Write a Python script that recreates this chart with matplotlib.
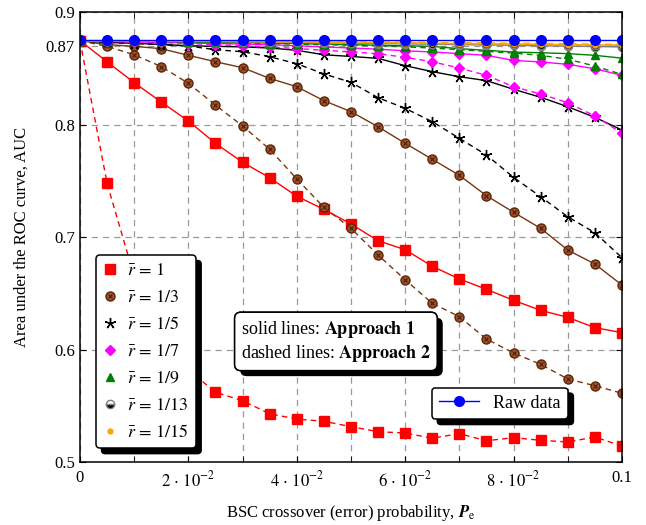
import matplotlib
matplotlib.use('Agg')
import matplotlib.pyplot as plt
from matplotlib.lines import Line2D
import matplotlib.patheffects as pe_fx

plt.rcParams['font.family'] = ['Liberation Serif', 'DejaVu Serif']
plt.rcParams['mathtext.fontset'] = 'stix'

# BSC crossover probability
pe = [0.0, 0.005, 0.01, 0.015, 0.02, 0.025, 0.03, 0.035, 0.04, 0.045, 0.05,
      0.055, 0.06, 0.065, 0.07, 0.075, 0.08, 0.085, 0.09, 0.095, 0.1]

# r = 1
r1_a1 = [0.8745, 0.8558, 0.8372, 0.820, 0.8031, 0.7833, 0.7664, 0.7527, 0.7362, 0.7246, 0.7116,
         0.6967, 0.6887, 0.6740, 0.6627, 0.6535, 0.6437, 0.6348, 0.6286, 0.6194, 0.6150]
r1_a2 = [0.8745, 0.7477, 0.665, 0.612, 0.582, 0.562, 0.5545, 0.5429, 0.5382, 0.5362, 0.5314,
         0.5269, 0.5258, 0.5211, 0.5252, 0.5189, 0.5216, 0.5193, 0.5178, 0.5222, 0.5142]
# r = 1/3
r3_a1 = [0.8745, 0.871, 0.8695, 0.8674, 0.8615, 0.8558, 0.8505, 0.841, 0.8336, 0.8212, 0.8114,
         0.798, 0.7833, 0.7691, 0.7548, 0.7367, 0.722, 0.7077, 0.6884, 0.676, 0.6573]
r3_a2 = [0.8745, 0.8695, 0.862, 0.8515, 0.8366, 0.8173, 0.7987, 0.778, 0.7516, 0.7264, 0.7077,
         0.684, 0.662, 0.6411, 0.6292, 0.6093, 0.5969, 0.5868, 0.5738, 0.5678, 0.5611]
# r = 1/5
r5_a1 = [0.8745, 0.873, 0.8722, 0.8712, 0.870, 0.8695, 0.869, 0.868, 0.866, 0.862, 0.8605,
         0.8588, 0.8523, 0.847, 0.8425, 0.839, 0.8313, 0.8242, 0.8158, 0.8064, 0.7951]
r5_a2 = [0.8745, 0.873, 0.872, 0.871, 0.8698, 0.8665, 0.8647, 0.8603, 0.854, 0.845, 0.8375,
         0.8238, 0.8144, 0.8025, 0.7877, 0.7729, 0.753, 0.7358, 0.718, 0.7038, 0.6816]
# r = 1/7
r7_a1 = [0.8745, 0.874, 0.8735, 0.873, 0.8725, 0.872, 0.8715, 0.871, 0.870, 0.869, 0.868,
         0.867, 0.8655, 0.8645, 0.863, 0.8615, 0.857, 0.8556, 0.8535, 0.8496, 0.8437]
r7_a2 = [0.8745, 0.874, 0.8735, 0.873, 0.872, 0.871, 0.870, 0.869, 0.8675, 0.866, 0.8645,
         0.863, 0.8597, 0.8558, 0.8502, 0.8437, 0.8336, 0.8271, 0.8194, 0.8076, 0.7922]
# r = 1/9
r9_a1 = [0.8745, 0.8745, 0.874, 0.874, 0.8735, 0.873, 0.873, 0.8725, 0.872, 0.8715, 0.871,
         0.8705, 0.870, 0.8695, 0.8674, 0.866, 0.8644, 0.8638, 0.863, 0.8615, 0.859]
r9_a2 = [0.8745, 0.8745, 0.874, 0.8738, 0.8735, 0.873, 0.8725, 0.872, 0.8715, 0.871, 0.8705,
         0.870, 0.869, 0.868, 0.8665, 0.865, 0.8635, 0.8615, 0.858, 0.852, 0.8445]
# r = 1/13
r13_a1 = [0.8745, 0.8744, 0.8743, 0.8741, 0.874, 0.8738, 0.8735, 0.8733, 0.873, 0.8727, 0.8724,
          0.872, 0.8717, 0.8714, 0.871, 0.8707, 0.8704, 0.870, 0.8697, 0.8693, 0.869]
r13_a2 = [0.8745, 0.8745, 0.8744, 0.8743, 0.8742, 0.874, 0.8738, 0.8736, 0.8733, 0.873, 0.8728,
          0.8725, 0.8722, 0.872, 0.8717, 0.8714, 0.8712, 0.871, 0.8708, 0.8705, 0.8703]
# r = 1/15
r15_a1 = [0.8745, 0.8745, 0.8744, 0.8743, 0.8742, 0.874, 0.8739, 0.8737, 0.8735, 0.8733, 0.873,
          0.8728, 0.8726, 0.8723, 0.872, 0.8718, 0.8715, 0.8713, 0.871, 0.8708, 0.8705]
r15_a2 = [0.8745, 0.8745, 0.8745, 0.8744, 0.8743, 0.8742, 0.8741, 0.874, 0.8738, 0.8736, 0.8734,
          0.8732, 0.873, 0.8728, 0.8726, 0.8724, 0.8722, 0.872, 0.8717, 0.8714, 0.8712]
# raw data
raw = [0.8748] * 21

fig = plt.figure(figsize=(6.46, 5.25), dpi=100)
ax = fig.add_axes([0.1238, 0.12, 0.8390, 0.8571])

brown = '#7a3510'
brown_face = '#a0522d'
dash = (0, (4, 3))

# r = 1
ax.plot(pe, r1_a1, color='red', lw=1, marker='s', ms=6.5, mfc='red', mec='red')
ax.plot(pe, r1_a2, color='red', lw=1, ls=dash, marker='s', ms=6.5, mfc='red', mec='red')
# r = 1/3 (circle with cross)
for ys, ls in [(r3_a1, '-'), (r3_a2, dash)]:
    ax.plot(pe, ys, color=brown, lw=1, ls=ls, marker='o', ms=6.5, mfc=brown_face, mec='#5a2508')
    ax.plot(pe, ys, ls='none', marker='x', ms=3.5, mec='#4a1e05', mew=0.8)
# r = 1/5
star = (5, 2, 0)
ax.plot(pe, r5_a1, color='black', lw=1, marker=star, ms=8, mec='black', mew=1)
ax.plot(pe, r5_a2, color='black', lw=1, ls=dash, marker=star, ms=8, mec='black', mew=1)
# r = 1/7
ax.plot(pe, r7_a1, color='magenta', lw=1, marker='D', ms=5, mfc='magenta', mec='magenta')
ax.plot(pe, r7_a2, color='magenta', lw=1, ls=dash, marker='D', ms=5, mfc='magenta', mec='magenta')
# r = 1/9
ax.plot(pe, r9_a1, color='green', lw=1, marker='^', ms=6, mfc='green', mec='green')
ax.plot(pe, r9_a2, color='green', lw=1, ls=dash, marker='^', ms=6, mfc='green', mec='green')
# r = 1/13
ax.plot(pe, r13_a1, color='gray', lw=1, marker='o', ms=6, fillstyle='bottom',
        mfc='black', mfcalt='white', mec='gray')
ax.plot(pe, r13_a2, color='gray', lw=1, ls=dash, marker='o', ms=6, fillstyle='bottom',
        mfc='black', mfcalt='white', mec='gray')
# r = 1/15
ax.plot(pe, r15_a1, color='orange', lw=1.2, marker='o', ms=3.5, mfc='orange', mec='orange')
ax.plot(pe, r15_a2, color='orange', lw=1.2, ls=dash, marker='o', ms=3.5, mfc='orange', mec='orange')
# raw data
raw_line, = ax.plot(pe, raw, color='blue', lw=1, marker='o', ms=7, mfc='blue', mec='blue')

ax.set_xlim(0, 0.1)
ax.set_ylim(0.5, 0.9)
ax.set_xticks([0, 0.02, 0.04, 0.06, 0.08, 0.1])
ax.set_xticklabels(['0', r'$2\,\cdot\,10^{-2}$', r'$4\,\cdot\,10^{-2}$', r'$6\,\cdot\,10^{-2}$',
                    r'$8\,\cdot\,10^{-2}$', '0.1'])
ax.set_xticks([0.01, 0.03, 0.05, 0.07, 0.09], minor=True)
ax.set_yticks([0.5, 0.6, 0.7, 0.8, 0.87, 0.9])
ax.set_yticklabels(['0.5', '0.6', '0.7', '0.8', '0.87', '0.9'])
ax.get_yticklabels()[4].set_fontsize(8)
ax.tick_params(which='both', direction='in', top=True, right=True, labelsize=12, length=4)
ax.tick_params(axis='x', pad=6)
ax.grid(True, which='both', color='#999999', ls=(0, (5, 4)), lw=0.9)
ax.set_axisbelow(True)
for sp in ax.spines.values():
    sp.set_linewidth(1.1)

ax.set_xlabel(r'BSC crossover (error) probability, $\mathbfit{P}_{\mathrm{e}}$', fontsize=12, labelpad=9)
ax.set_ylabel('Area under the ROC curve, AUC', fontsize=12, labelpad=12)

# legend for r values
h1 = Line2D([], [], ls='none', marker='s', ms=6.5, color='red')
h3a = Line2D([], [], ls='none', marker='o', ms=6.5, mfc=brown_face, mec='#5a2508')
h3b = Line2D([], [], ls='none', marker='x', ms=3.5, mec='#4a1e05', mew=0.8)
h5 = Line2D([], [], ls='none', marker=star, ms=8, mec='black')
h7 = Line2D([], [], ls='none', marker='D', ms=5, color='magenta')
h9 = Line2D([], [], ls='none', marker='^', ms=6, color='green')
h13 = Line2D([], [], ls='none', marker='o', ms=6, fillstyle='bottom', mfc='black',
             mfcalt='white', mec='gray')
h15 = Line2D([], [], ls='none', marker='o', ms=3.5, color='orange')
labels = [r'$\bar{r}\,=\,1$', r'$\bar{r}\,=\,1/3$', r'$\bar{r}\,=\,1/5$', r'$\bar{r}\,=\,1/7$',
          r'$\bar{r}\,=\,1/9$', r'$\bar{r}\,=\,1/13$', r'$\bar{r}\,=\,1/15$']
leg1 = ax.legend([h1, (h3a, h3b), h5, h7, h9, h13, h15], labels, loc='lower left',
                 bbox_to_anchor=(0.0295, 0.031), borderaxespad=0, fontsize=13,
                 handlelength=0.8, handletextpad=0.5, labelspacing=0.55,
                 fancybox=True, framealpha=1, edgecolor='black',
                 shadow={'ox': 4, 'oy': -4, 'color': 'black', 'alpha': 1})
leg1.get_frame().set_linewidth(1.1)
ax.add_artist(leg1)

leg2 = ax.legend([raw_line], ['Raw data'], loc='lower left', bbox_to_anchor=(0.649, 0.0956),
                 borderaxespad=0, fontsize=13, handlelength=2.2, fancybox=True, framealpha=1,
                 edgecolor='black', shadow={'ox': 4, 'oy': -4, 'color': 'black', 'alpha': 1})
leg2.get_frame().set_linewidth(1.1)

txt = ax.text(0.297, 0.268,
              'solid lines: $\\mathbf{Approach\\ 1}$\ndashed lines: $\\mathbf{Approach\\ 2}$',
              transform=ax.transAxes, fontsize=13, va='center', ha='left', linespacing=1.25,
              bbox=dict(boxstyle='round,pad=0.35', fc='white', ec='black', lw=1.1))
txt.get_bbox_patch().set_path_effects([
    pe_fx.withSimplePatchShadow(offset=(4, -4), shadow_rgbFace='black', alpha=1),
    pe_fx.Normal()])

fig.savefig('out.png', dpi=100)
